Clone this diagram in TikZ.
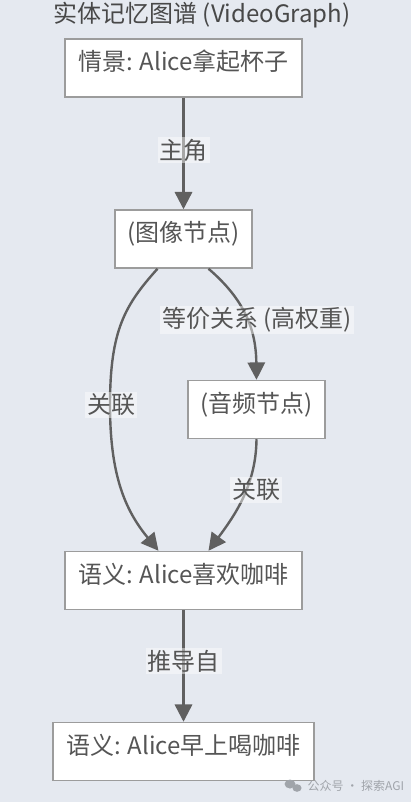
\documentclass[tikz,border=0pt]{standalone}
\usepackage{fontspec}
\setmainfont{Noto Sans CJK SC}
\usetikzlibrary{arrows.meta,calc}
\definecolor{bg}{HTML}{E5E9F0}
\definecolor{boxline}{HTML}{9C9C9C}
\definecolor{txt}{HTML}{555555}
\definecolor{edgec}{HTML}{606060}
\definecolor{wmc}{HTML}{A0A4AA}
\begin{document}
\begin{tikzpicture}[x=0.75pt,y=-0.75pt,
  box/.style={draw=boxline, line width=1.1pt, fill=white, inner sep=0pt,
    text=txt, font=\fontsize{18}{21}\selectfont,
    text height=24pt, text depth=19.5pt, minimum width=#1, align=center},
  edgelbl/.style={fill=white, fill opacity=0.45, text opacity=1, text=txt,
    inner sep=1.5pt, font=\fontsize{18}{21}\selectfont},
  conn/.style={draw=edgec, line width=1.8pt, -{Triangle[length=13pt,width=13pt]}}]
\fill[bg] (0,0) rectangle (411,802);
\useasboundingbox (0,0) rectangle (411,802);
\node[text=txt!85!black, font=\fontsize{18}{21}\selectfont] (title) at (202,15) {实体记忆图谱 (VideoGraph)};
\node[box=177.75pt] (ep) at (183.5,68) {情景: Alice拿起杯子};
\node[box=102.75pt] (img) at (183.5,239) {(图像节点)};
\node[box=102.75pt] (aud) at (256.5,409.5) {(音频节点)};
\node[box=177.75pt] (s1) at (183.5,580.5) {语义: Alice喜欢咖啡};
\node[box=195.75pt] (s2) at (183.5,751.5) {语义: Alice早上喝咖啡};
\coordinate (lmid) at (110,405);
\draw[conn] (ep) -- (img);
\draw[conn] ($(img.south)+(-26,0)$) .. controls (125,305) and (110,330) .. (lmid)
  .. controls (110,475) and (125,510) .. ($(s1.north)+(-25,0)$);
\draw[conn] ($(img.south)+(25,0)$) .. controls (245,300) and (256,330) .. (aud.north);
\draw[conn] (aud.south) .. controls (256,485) and (235,515) .. ($(s1.north)+(25,0)$);
\draw[conn] (s1) -- (s2);
\node[edgelbl] (l1) at (183.5,150) {主角};
\node[edgelbl] (l2) at (257,320) {等价关系 (高权重)};
\node[edgelbl] (l3) at (111,405) {关联};
\node[edgelbl] (l4) at (256,490) {关联};
\node[edgelbl] (l5) at (183.5,661) {推导自};
\fill[wmc] (290,784) ellipse (5.5 and 4.5);
\fill[wmc] (297,788) ellipse (4.5 and 3.8);
\node[text=wmc, font=\fontsize{9}{10}\selectfont, anchor=west] (wm) at (303,786) {公众号 · 探索AGI};
\end{tikzpicture}
\end{document}
